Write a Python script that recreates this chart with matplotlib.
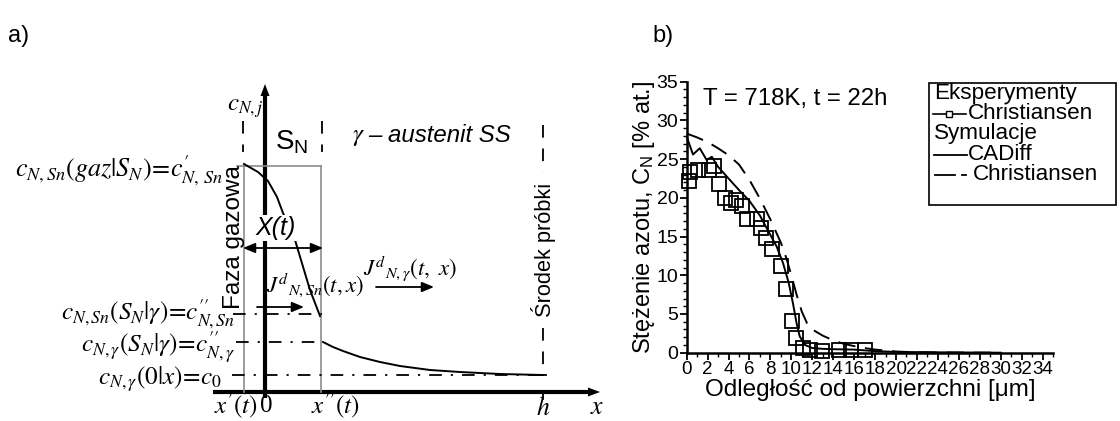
import numpy as np
import matplotlib
matplotlib.use("Agg")
import matplotlib.pyplot as plt
from matplotlib.patches import Rectangle
from matplotlib.ticker import MultipleLocator

plt.rcParams['font.family'] = ['Liberation Sans', 'DejaVu Sans']
plt.rcParams['mathtext.fontset'] = 'custom'
plt.rcParams['mathtext.rm'] = 'Liberation Sans'
plt.rcParams['mathtext.it'] = 'Liberation Sans:italic'
plt.rcParams['mathtext.bf'] = 'Liberation Sans:bold'

# ---------------- panel b data ----------------
exp_x = [0.25, 0.3, 1.1, 2.1, 2.6, 3.1, 3.65, 4.2, 4.75, 5.3, 5.8, 6.7, 7.1, 7.55,
         8.15, 9.05, 9.45, 10.1, 10.4, 11.1, 11.8, 12.9, 14.6, 15.7, 17.0]
exp_y = [22.2, 23.4, 23.6, 23.6, 24.1, 21.8, 20.0, 19.3, 19.7, 19.0, 17.3, 17.3, 16.1, 14.8,
         13.4, 11.2, 8.2, 4.1, 1.85, 0.57, 0.3, 0.2, 0.3, 0.35, 0.3]

cadiff_x = [0, 0.6, 1.25, 1.9, 2.4, 3.0, 4, 5, 6, 7, 8, 8.6, 9.2, 9.75, 10.15, 10.5,
            10.8, 11.3, 12, 13, 14, 16, 18, 20, 24, 30]
cadiff_y = [27.9, 25.6, 26.4, 24.9, 25.3, 24.0, 22.5, 21.0, 19.6, 17.7, 15.2, 13.7, 11.6,
            9.0, 6.4, 3.8, 2.1, 1.0, 0.6, 0.5, 0.45, 0.4, 0.2, 0.1, 0.05, 0.0]

chr_x = [0, 1, 2, 3, 4, 5, 6, 7, 8, 9, 9.5, 10, 10.5, 11, 11.5, 12, 13, 14, 15, 16, 17,
         18, 20, 22, 25, 30]
chr_y = [28.3, 27.8, 27.2, 26.4, 25.5, 24.3, 22.3, 19.9, 17.2, 14.2, 12.3, 10.0, 7.5, 5.3,
         3.8, 3.0, 2.2, 1.6, 1.15, 0.85, 0.6, 0.4, 0.15, 0.05, 0.02, 0.0]

x_ticks = list(range(0, 35, 2))
y_ticks = list(range(0, 36, 5))

legend_rows = ["Eksperymenty", "Christiansen", "Symulacje", "CADiff", "Christiansen"]

# ---------------- schematic (panel a) geometry, pixel frame ----------------
sn_curve_x = [244, 258, 268, 277, 283, 289, 295, 310, 315, 320]
sn_curve_y = [164, 172, 181, 197, 213, 226, 240, 290, 303, 316]
gam_curve_x = [323, 333, 343, 360, 380, 400, 430, 460, 500, 543]
gam_curve_y = [342, 347, 351, 357, 362, 366, 370, 372, 374, 375]

W, H = 1120, 421
fig = plt.figure(figsize=(11.2, 4.21), dpi=100)


def box(l, t, r, b):
    return [l / W, 1 - b / H, (r - l) / W, (b - t) / H]


# ---------------- panel b ----------------
axb = fig.add_axes(box(686.7, 81.7, 1053, 352.7))
axb.set_xlim(0, 35)
axb.set_ylim(0, 35)
axb.plot(cadiff_x, cadiff_y, color='black', lw=1.4, clip_on=False)
axb.plot(chr_x, chr_y, color='black', lw=1.4, dashes=(9, 5), clip_on=False)
axb.plot(exp_x, exp_y, ls='none', marker='s', ms=10, mfc='none', mec='black', mew=1.3,
         clip_on=False)
axb.spines['top'].set_visible(False)
axb.spines['right'].set_visible(False)
for s in ('left', 'bottom'):
    axb.spines[s].set_linewidth(1.8)
axb.set_xticks(x_ticks)
axb.set_yticks(y_ticks)
axb.xaxis.set_minor_locator(MultipleLocator(1))
axb.yaxis.set_minor_locator(MultipleLocator(1))
axb.tick_params(axis='x', which='major', direction='out', length=5, width=1.3,
                labelsize=13.5, pad=1)
axb.tick_params(axis='y', which='major', direction='out', length=5, width=1.3,
                labelsize=14, pad=1)
axb.tick_params(which='minor', direction='out', length=3, width=1.0)
axb.set_xlabel("Odległość od powierzchni [μm]", fontsize=17.5, labelpad=1)
axb.set_ylabel(r"Stężenie azotu, C$_{\mathrm{N}}$ [% at.]", fontsize=17, labelpad=0)
axb.patch.set_visible(False)

# ---------------- overlay (pixel coords) ----------------
ax = fig.add_axes([0, 0, 1, 1])
ax.set_xlim(0, W)
ax.set_ylim(H, 0)
ax.axis('off')

K = 'black'
G = '#8c8c8c'

# panel labels
ax.text(8, 36, "a)", fontsize=17, va='center', ha='left')
ax.text(652, 36, "b)", fontsize=17, va='center', ha='left')

# title b
ax.text(795, 99, "T = 718K, t = 22h", fontsize=17.3, ha='center', va='center')

# legend b
ax.add_patch(Rectangle((929, 83), 1116 - 929, 122, fill=False, ec=K, lw=1.2))
LF = 16.2
row_y = [93, 113.5, 134, 154.5, 175]
ax.text(934, row_y[0], legend_rows[0], fontsize=LF, va='center', ha='left')
ax.plot([933, 966], [row_y[1], row_y[1]], color=K, lw=1.2)
ax.plot([949], [row_y[1]], marker='s', ms=5, mfc='white', mec=K, mew=1.0)
ax.text(968, row_y[1], legend_rows[1], fontsize=LF, va='center', ha='left')
ax.text(934, row_y[2], legend_rows[2], fontsize=LF, va='center', ha='left')
ax.plot([934, 967], [row_y[3], row_y[3]], color=K, lw=1.3)
ax.text(968, row_y[3], legend_rows[3], fontsize=LF, va='center', ha='left')
ax.plot([935, 955], [row_y[4], row_y[4]], color=K, lw=1.3)
ax.plot([962, 966], [row_y[4], row_y[4]], color=K, lw=1.3)
ax.text(973, row_y[4], legend_rows[4], fontsize=LF, va='center', ha='left')

# --- schematic ---
# thick axes
ax.plot([213, 590], [392, 392], color=K, lw=3, solid_capstyle='butt')
ax.fill([588, 588, 600], [387.5, 396.5, 392], color=K, lw=0)
ax.plot([265, 265], [398, 94], color=K, lw=3, solid_capstyle='butt')
ax.fill([260.5, 269.5, 265], [96, 96, 84], color=K, lw=0)
# tick at h
ax.plot([543, 543], [392, 399], color=K, lw=1.3)

# gray box lines
ax.plot([244, 244], [166, 392], color=G, lw=1.2)
ax.plot([321, 321], [166, 392], color=G, lw=1.2)
ax.plot([237, 321], [166, 166], color=G, lw=1.2)

# dashed boundaries
ax.plot([243, 243], [121, 152], color=K, lw=1.3, dashes=(7, 6))
ax.plot([322, 322], [121, 152], color=K, lw=1.3, dashes=(7, 6))
ax.plot([543, 543], [125, 172], color=K, lw=1.3, dashes=(7, 6))
ax.plot([543, 543], [328, 375], color=K, lw=1.3, dashes=(7, 6))
ax.plot([540, 546], [375, 375], color=K, lw=1.3)

# dash-dot levels
dd = (7, 5, 1.2, 5)
ax.plot([233, 322], [314, 314], color=K, lw=1.3, dashes=dd)
ax.plot([236, 322], [342, 342], color=K, lw=1.3, dashes=dd)
ax.plot([232, 540], [375, 375], color=K, lw=1.3, dashes=dd)

# curves
ax.plot(sn_curve_x, sn_curve_y, color=K, lw=1.4)
ax.plot(gam_curve_x, gam_curve_y, color=K, lw=1.4)

# arrows
ap = dict(lw=1.3, color=K, shrinkA=0, shrinkB=0, mutation_scale=12)
ax.annotate('', xy=(323, 248), xytext=(243, 248),
            arrowprops=dict(arrowstyle='<|-|>,head_length=0.6,head_width=0.25', **ap))
ax.annotate('', xy=(304, 307), xytext=(257, 307),
            arrowprops=dict(arrowstyle='-|>,head_length=0.6,head_width=0.25', **ap))
ax.annotate('', xy=(434, 287), xytext=(376, 287),
            arrowprops=dict(arrowstyle='-|>,head_length=0.6,head_width=0.25', **ap))

# schematic texts (serif math)
sf = dict(math_fontfamily='stix')
SF = 18.2
ax.text(245, 108, r"$c_{N,j}$", fontsize=18, ha='center', va='center', **sf)
ax.text(223, 176, r"$c_{N,Sn}(gaz|S_N)\!=\!c^{\prime}_{N,\,Sn}$", fontsize=18.8,
        ha='right', va='baseline', **sf)
ax.text(235, 320, r"$c_{N,Sn}(S_N|\gamma)\!=\!c^{\prime\prime}_{N,Sn}$", fontsize=SF,
        ha='right', va='baseline', **sf)
ax.text(235, 352, r"$c_{N,\gamma}(S_N|\gamma)\!=\!c^{\prime\prime}_{N,\gamma}$", fontsize=SF,
        ha='right', va='baseline', **sf)
ax.text(222, 385, r"$c_{N,\gamma}(0|x)\!=\!c_0$", fontsize=SF,
        ha='right', va='baseline', **sf)
ax.text(266, 292, r"$J^{d}{}_{N,Sn}(t,x)$", fontsize=16.5, ha='left', va='baseline', **sf)
ax.text(363, 275, r"$J^{d}{}_{N,\gamma}(t,\ x)$", fontsize=16.5, ha='left', va='baseline', **sf)
ax.text(258, 406, r"$x^{\prime}(t)$", fontsize=18, ha='right', va='center', **sf)
ax.text(266, 406, "0", fontsize=18, ha='center', va='center', family='Liberation Serif')
ax.text(335, 406, r"$x^{\prime\prime}(t)$", fontsize=18, ha='center', va='center', **sf)
ax.text(543, 408, r"$h$", fontsize=18.5, ha='center', va='center', **sf)
ax.text(597, 407, r"$x$", fontsize=18.5, ha='center', va='center', **sf)
ax.text(352, 136, r"$\gamma$", fontsize=18, ha='left', va='center', **sf)

# schematic texts (sans)
ax.text(275, 150, r"S$_{\mathrm{N}}$", fontsize=20, ha='left', va='baseline')
ax.text(276, 228, "X(t)", fontsize=18, style='italic', ha='center', va='center',
        bbox=dict(boxstyle='square,pad=0.05', fc='white', ec='none'))
ax.text(368, 135, "– austenit SS", fontsize=17.3, style='italic', ha='left', va='center')
ax.text(234, 237, "Faza gazowa", fontsize=17.5, rotation=90, ha='center', va='center')
ax.text(543, 250, "Środek próbki", fontsize=15.7, rotation=90, ha='center', va='center')

fig.savefig("out.png", dpi=100)
